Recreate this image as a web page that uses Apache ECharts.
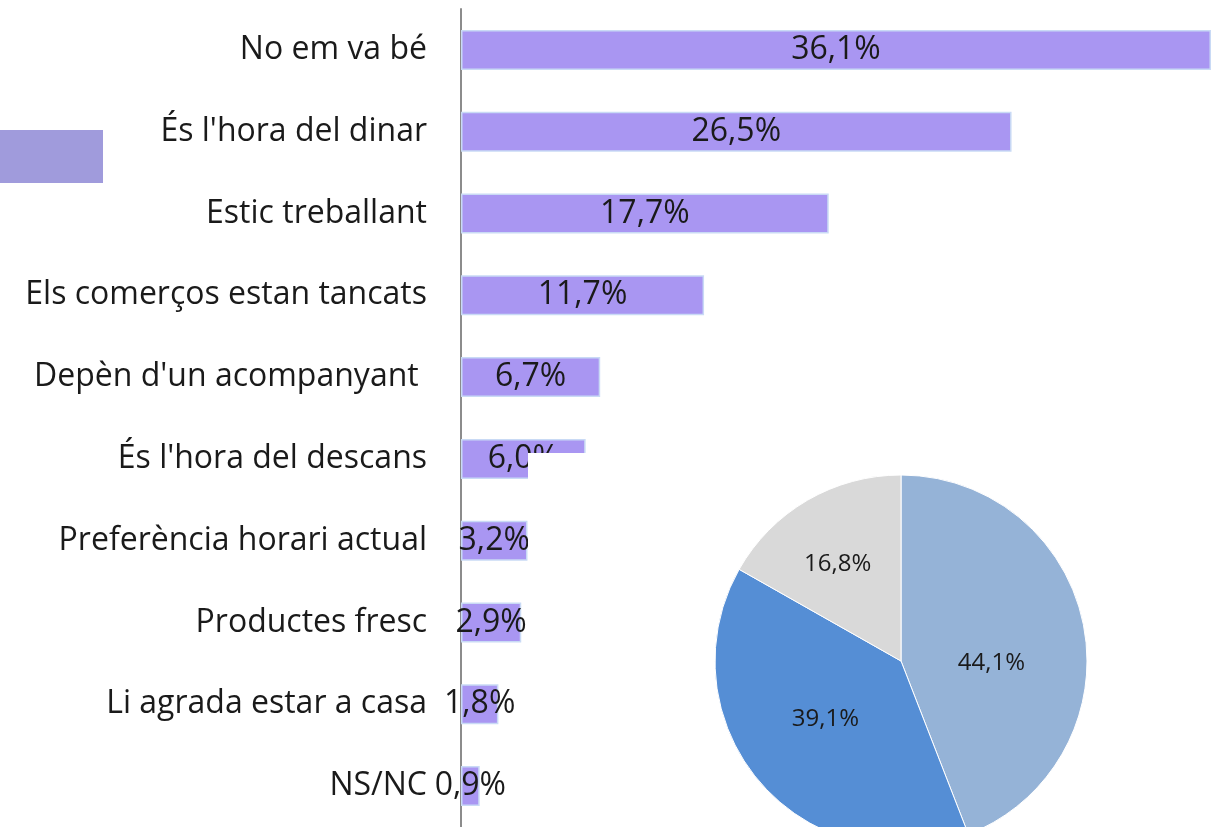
<!DOCTYPE html>
<html>
<head>
<meta charset="utf-8">
<script src="https://cdn.jsdelivr.net/npm/echarts@6/dist/echarts.min.js"></script>
<style>
  html, body { margin: 0; padding: 0; background: #fff; }
  #chart { width: 1217px; height: 827px; }
</style>
</head>
<body>
<div id="chart"></div>
<script>
// motius (barres) i repartiment (pastís)
var categories = [
  "No em va bé",
  "És l'hora del dinar",
  "Estic treballant",
  "Els comerços estan tancats",
  "Depèn d'un acompanyant ",
  "És l'hora del descans",
  "Preferència horari actual",
  "Productes fresc",
  "Li agrada estar a casa",
  "NS/NC"
];
var values = [36.1, 26.5, 17.7, 11.7, 6.7, 6.0, 3.2, 2.9, 1.8, 0.9];

var pieValues = [44.1, 39.1, 16.8];
var pieColors = ["#95b3d7", "#558ed5", "#d9d9d9"];

var font = "Open Sans";
// desplaçament de les etiquetes del pastís (com a l'original)
var pieLabelOffsets = [[-4, 20], [-3, -5], [-15, -14]];

function pct(v) {
  return v.toFixed(1).replace(".", ",") + "%";
}

var myChart = echarts.init(document.getElementById("chart"));
myChart.setOption({
  animation: false,
  grid: {
    left: 461,
    right: 6,
    top: 9,
    bottom: 0,
    containLabel: false
  },
  xAxis: {
    type: "value",
    min: 0,
    max: 36.1,
    show: false
  },
  yAxis: {
    type: "category",
    inverse: true,
    data: categories,
    axisLine: {
      show: true,
      lineStyle: { color: "#8c8c8c", width: 2 }
    },
    axisTick: { show: false },
    axisLabel: {
      color: "#1a1a1a",
      fontFamily: font,
      fontSize: 32,
      margin: 34,
      padding: [4, 0, 0, 0]
    }
  },
  graphic: [
    {
      type: "rect",
      shape: { x: 0, y: 130, width: 103, height: 53 },
      style: { fill: "#a09bdc" },
      z: 5
    },
    {
      type: "rect",
      shape: { x: 528, y: 453, width: 700, height: 380 },
      style: { fill: "#ffffff" },
      z: 50
    }
  ],
  series: [
    {
      type: "bar",
      data: values,
      barWidth: 40,
      itemStyle: {
        color: "#a996f2",
        borderColor: "#c9daf5",
        borderWidth: 1.5
      },
      label: {
        show: true,
        position: "inside",
        color: "#1a1a1a",
        fontFamily: font,
        fontSize: 32,
        formatter: function (p) { return pct(p.value); }
      }
    },
    {
      type: "pie",
      z: 100,
      center: [901, 661],
      radius: 186,
      startAngle: 90,
      clockwise: true,
      data: pieValues.map(function (v, i) {
        return {
          value: v,
          itemStyle: { color: pieColors[i] },
          label: { offset: pieLabelOffsets[i] }
        };
      }),
      itemStyle: { borderColor: "#ffffff", borderWidth: 1 },
      label: {
        show: true,
        position: "inside",
        color: "#1a1a1a",
        fontFamily: font,
        fontSize: 24,
        formatter: function (p) { return pct(p.value); }
      },
      labelLine: { show: false }
    }
  ]
});
</script>
</body>
</html>
